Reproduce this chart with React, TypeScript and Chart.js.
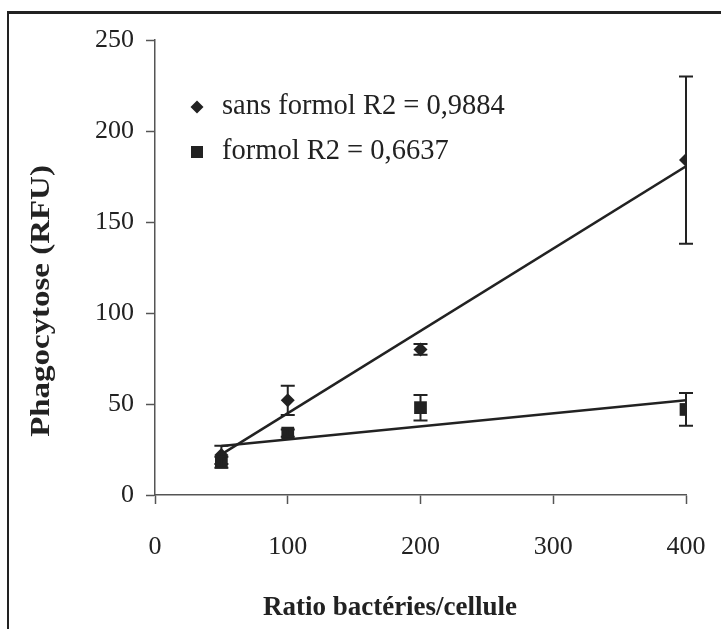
import React, { useEffect, useRef } from "react";
import { Chart, registerables } from "chart.js";

Chart.register(...registerables);

const ratios = [50, 100, 200, 400];
const sansFormol = [22, 52, 80, 184];
const sansFormolErr = [5, 8, 3, 46];
const formol = [18, 34, 48, 47];
const formolErr = [3, 2, 7, 9];
const trendX = [50, 400];
const sansFormolTrend = [22.3, 180.6];
const formolTrend = [26.9, 52.0];
const xTicks = [0, 100, 200, 300, 400];
const yTicks = [0, 50, 100, 150, 200, 250];
const legendLabels = ["sans formol R2 = 0,9884", "formol R2 = 0,6637"];
const xTitle = "Ratio bactéries/cellule";
const yTitle = "Phagocytose (RFU)";

const INK = "#222";
const FONT = "'Liberation Serif', 'Times New Roman', serif";

const errorBarPlugin = {
  id: "errorBars",
  afterDatasetsDraw(chart: any) {
    const { ctx, scales } = chart;
    const xs = scales.x;
    const ys = scales.y;
    const sets = [
      { vals: sansFormol, errs: sansFormolErr },
      { vals: formol, errs: formolErr },
    ];
    ctx.save();
    ctx.strokeStyle = INK;
    ctx.lineWidth = 2;
    sets.forEach((s) => {
      ratios.forEach((r, i) => {
        const px = xs.getPixelForValue(r);
        const top = ys.getPixelForValue(s.vals[i] + s.errs[i]);
        const bot = ys.getPixelForValue(s.vals[i] - s.errs[i]);
        ctx.beginPath();
        ctx.moveTo(px, top);
        ctx.lineTo(px, bot);
        ctx.moveTo(px - 7, top);
        ctx.lineTo(px + 7, top);
        ctx.moveTo(px - 7, bot);
        ctx.lineTo(px + 7, bot);
        ctx.stroke();
      });
    });
    ctx.restore();
  },
};

const decorPlugin = {
  id: "decor",
  afterDraw(chart: any) {
    const { ctx } = chart;
    ctx.save();
    // frame
    ctx.fillStyle = INK;
    ctx.fillRect(7, 11, 721 - 7, 3);
    ctx.fillRect(7, 11, 2, 629 - 11);
    // legend
    ctx.fillStyle = INK;
    ctx.font = `28.5px ${FONT}`;
    ctx.textBaseline = "middle";
    ctx.textAlign = "left";
    const dx = 197, dy = 107, r = 6.5;
    ctx.beginPath();
    ctx.moveTo(dx, dy - r);
    ctx.lineTo(dx + r, dy);
    ctx.lineTo(dx, dy + r);
    ctx.lineTo(dx - r, dy);
    ctx.closePath();
    ctx.fill();
    ctx.fillText(legendLabels[0], 222, 107);
    ctx.fillRect(191, 146, 12, 12);
    ctx.fillText(legendLabels[1], 222, 152);
    // axis titles
    ctx.font = `bold 27px ${FONT}`;
    ctx.textAlign = "center";
    ctx.fillText(xTitle, 390, 608);
    ctx.translate(42, 301);
    ctx.rotate(-Math.PI / 2);
    ctx.scale(1.22, 1);
    ctx.fillText(yTitle, 0, 0);
    ctx.restore();
  },
};

export default function App() {
  const ref = useRef<HTMLCanvasElement>(null);
  useEffect(() => {
    document.body.style.margin = "0";
    const canvas = ref.current!;
    const chart = new Chart(canvas, {
      type: "scatter",
      data: {
        datasets: [
          {
            label: legendLabels[0],
            data: ratios.map((x, i) => ({ x, y: sansFormol[i] })),
            pointStyle: "rectRot",
            pointRadius: 7,
            backgroundColor: INK,
            borderColor: INK,
            borderWidth: 0,
          },
          {
            label: legendLabels[1],
            data: ratios.map((x, i) => ({ x, y: formol[i] })),
            pointStyle: "rect",
            pointRadius: 9,
            backgroundColor: INK,
            borderColor: INK,
            borderWidth: 0,
          },
          {
            label: "trend sans formol",
            data: trendX.map((x, i) => ({ x, y: sansFormolTrend[i] })),
            showLine: true,
            pointRadius: 0,
            borderColor: INK,
            borderWidth: 2.5,
          },
          {
            label: "trend formol",
            data: trendX.map((x, i) => ({ x, y: formolTrend[i] })),
            showLine: true,
            pointRadius: 0,
            borderColor: INK,
            borderWidth: 2.5,
          },
        ],
      },
      options: {
        responsive: false,
        animation: false,
        layout: { padding: { left: 0, top: 40, right: 35, bottom: 0 } },
        plugins: { legend: { display: false }, tooltip: { enabled: false } },
        scales: {
          x: {
            type: "linear",
            min: 0,
            max: 400,
            afterBuildTicks: (s: any) => {
              s.ticks = xTicks.map((v) => ({ value: v }));
            },
            afterFit: (s: any) => {
              s.height = 134;
              s.paddingLeft = 0;
              s.paddingRight = 0;
            },
            ticks: {
              color: INK,
              padding: 28,
              font: { family: FONT, size: 26 },
            },
            grid: {
              drawOnChartArea: false,
              drawTicks: true,
              tickLength: 9,
              tickWidth: 1.5,
              tickColor: "#555",
            },
            border: { display: true, color: "#555", width: 1.5 },
          },
          y: {
            type: "linear",
            min: 0,
            max: 250,
            afterBuildTicks: (s: any) => {
              s.ticks = yTicks.map((v) => ({ value: v }));
            },
            afterFit: (s: any) => {
              s.width = 155;
            },
            ticks: {
              color: INK,
              padding: 12,
              font: { family: FONT, size: 26 },
            },
            grid: {
              drawOnChartArea: false,
              drawTicks: true,
              tickLength: 9,
              tickWidth: 1.5,
              tickColor: "#555",
            },
            border: { display: true, color: "#555", width: 1.5 },
          },
        },
      },
      plugins: [errorBarPlugin, decorPlugin],
    });
    return () => chart.destroy();
  }, []);
  return (
    <div style={{ width: 721, height: 629, background: "#fff" }}>
      <canvas ref={ref} width={721} height={629} style={{ display: "block" }} />
    </div>
  );
}
